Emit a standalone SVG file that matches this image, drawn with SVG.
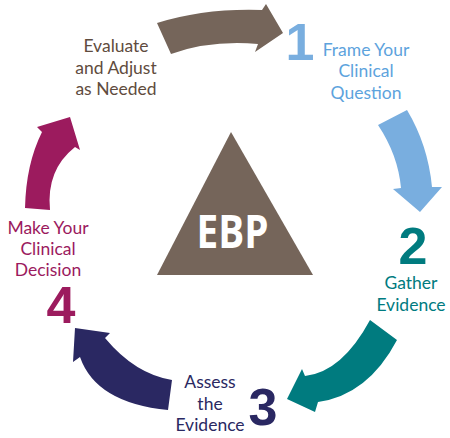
<svg xmlns="http://www.w3.org/2000/svg" width="450" height="438" viewBox="0 0 450 438">
<style>
.lbl{font-family:Lato,"Open Sans","Liberation Sans",sans-serif;font-size:17.5px;text-anchor:middle}
.num{font-family:"Liberation Sans",Arial,sans-serif;font-weight:700;font-size:52px;text-anchor:middle}
.brown{fill:#75655a}
.blue{fill:#79aedf}
.teal{fill:#007b7f}
.navy{fill:#2a2862}
.mag{fill:#9c1b5e}
</style>
<rect width="450" height="438" fill="#ffffff"/>
<g id="connectors">
<path id="arrow-evaluate" class="brown" d="M157,23 Q205,8 262,10 L266,4 L283,33 L255,52 L258,44 Q210,40 171,54 Z"/>
<path id="arrow-frame" class="blue" d="M378,125 L407,110 Q428,145 432,187 L442,187 L420,212 L393,189 L401,188 Q398,155 378,125 Z"/>
<path id="arrow-gather" class="teal" d="M370,320 L397,340 Q368,395 318,402 L315,412 L287,399 L302,369 L305,376 Q342,372 370,320 Z"/>
<path id="arrow-assess" class="navy" d="M172,380 Q135,374 105,338 L110,333 L75,328 L73,362 L80,357 Q96,403 168,410 Z"/>
<path id="arrow-decide" class="mag" d="M25,208 Q26,164 42,132 L37,127 L70,117 L80,150 L75,147 Q46,170 50,210 Z"/>
</g>
<g id="ebp">
<polygon class="brown" points="231,132 157,275 313,275"/>
<text x="232.5" y="248" font-family="'Open Sans','Liberation Sans',sans-serif" font-weight="700" font-size="47" fill="#ffffff" text-anchor="middle" textLength="72" lengthAdjust="spacingAndGlyphs">EBP</text>
</g>
<g id="step1">
<text class="num blue" x="300" y="60">1</text>
<text class="lbl" fill="#5da3dd" x="366" y="56">Frame Your</text>
<text class="lbl" fill="#5da3dd" x="366" y="77.3">Clinical</text>
<text class="lbl" fill="#5da3dd" x="366" y="98.6">Question</text>
</g>
<g id="step2">
<text class="num teal" x="413" y="264">2</text>
<text class="lbl" fill="#007b80" x="411" y="288.5">Gather</text>
<text class="lbl" fill="#007b80" x="411" y="310.5">Evidence</text>
</g>
<g id="step3">
<text class="num navy" x="263" y="425">3</text>
<text class="lbl" fill="#2a2862" x="210" y="388">Assess</text>
<text class="lbl" fill="#2a2862" x="210" y="409.5">the</text>
<text class="lbl" fill="#2a2862" x="210" y="431">Evidence</text>
</g>
<g id="step4">
<text class="num mag" x="61" y="323" font-size="50">4</text>
<text class="lbl" fill="#9b1a5e" x="48" y="233.5">Make Your</text>
<text class="lbl" fill="#9b1a5e" x="48" y="255">Clinical</text>
<text class="lbl" fill="#9b1a5e" x="48" y="276">Decision</text>
</g>
<g id="evaluate">
<text class="lbl" fill="#5f4c3e" x="116" y="51.5">Evaluate</text>
<text class="lbl" fill="#5f4c3e" x="116" y="73.5">and Adjust</text>
<text class="lbl" fill="#5f4c3e" x="116" y="95">as Needed</text>
</g>
</svg>
